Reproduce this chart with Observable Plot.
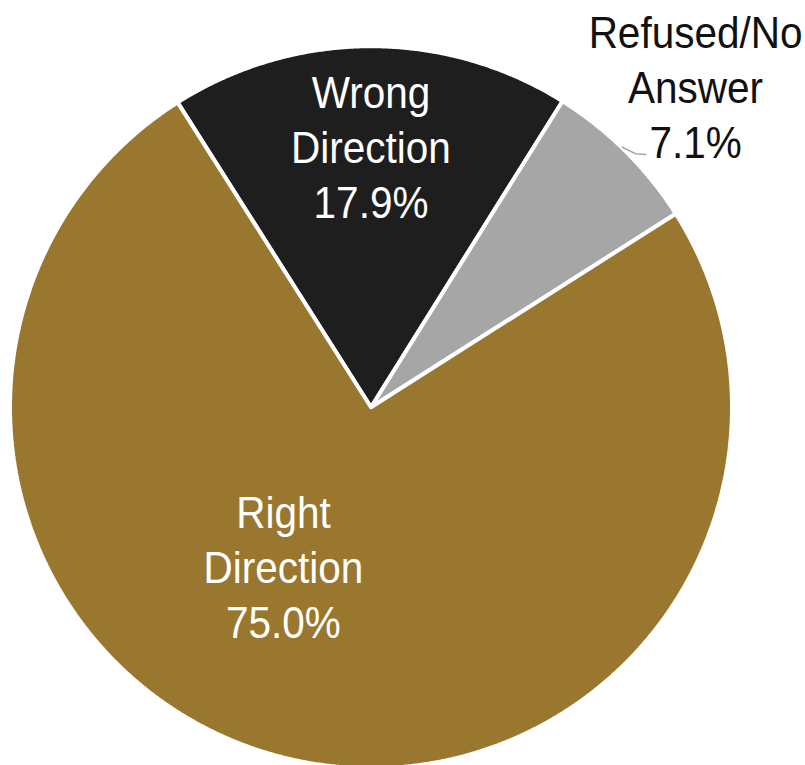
<!DOCTYPE html>
<html>
<head>
<meta charset="utf-8">
<script src="https://cdn.jsdelivr.net/npm/d3@7"></script>
<script src="https://cdn.jsdelivr.net/npm/@observablehq/plot@0.6"></script>
<style>
  html, body { margin: 0; padding: 0; background: #fff; }
</style>
</head>
<body>
<div id="chart"></div>
<script>
// ---- data ----
const categories = ["Wrong Direction", "Refused/No Answer", "Right Direction"];
const values = [17.9, 7.1, 75.0];
const labelTexts = ["Wrong\nDirection\n17.9%", "Refused/No\nAnswer\n7.1%", "Right\nDirection\n75.0%"];
const colors = ["#1e1e1e", "#a6a6a6", "#9a772f"];
const labelColors = ["#ffffff", "#111111", "#ffffff"];

// ---- layout ----
const W = 805, H = 765;
const cx = 370.5, cy = 406.7, R = 359;   // pixel centre & radius
const startDeg = -32.4;
const sliceR = 1 + 2 / R;                  // compensate for white outline
const labelPos = [[0.0, 0.729], [0.904, 0.897], [-0.244, -0.441]];
const leader = [[0.700, 0.724], [0.737, 0.706], [0.765, 0.704]];
const condense = 0.9;

const total = d3.sum(values);
const polys = [];
let a = startDeg;
categories.forEach((c, i) => {
  const a0 = a, a1 = a + values[i] / total * 360;
  polys.push({cat: c, x: 0, y: 0});
  const n = Math.max(2, Math.ceil((a1 - a0) / 0.25));
  for (let k = 0; k <= n; k++) {
    const t = (a0 + (a1 - a0) * k / n) * Math.PI / 180;
    polys.push({cat: c, x: sliceR * Math.sin(t), y: sliceR * Math.cos(t)});
  }
  polys.push({cat: c, x: 0, y: 0});
  a = a1;
});

const labels = categories.map((c, i) => ({
  cat: c, text: labelTexts[i], x: labelPos[i][0], y: labelPos[i][1], color: labelColors[i]
}));
const leaderPts = leader.map(([x, y]) => ({x, y}));

const chart = Plot.plot({
  width: W, height: H,
  margin: 0,
  x: {domain: [-cx / R, (W - cx) / R], axis: null},
  y: {domain: [-(H - cy) / R, cy / R], axis: null},
  color: {domain: categories, range: colors},
  style: {fontFamily: "'Liberation Sans', Arial, sans-serif", background: "#fff"},
  marks: [
    Plot.line(polys, {x: "x", y: "y", z: "cat", fill: "cat", stroke: "#fff", strokeWidth: 4, strokeLinejoin: "miter", curve: "linear"}),
    Plot.line(leaderPts, {x: "x", y: "y", stroke: "#a6a6a6", strokeWidth: 1.5}),
    Plot.text(labels, {
      x: "x", y: "y", text: "text", fill: "color", fontSize: 45, lineHeight: 1.22, textAnchor: "middle",
      render(index, scales, vals, dims, context, next) {
        const g = next(index, scales, vals, dims, context);
        g.querySelectorAll("text").forEach(t => {
          const tr = t.getAttribute("transform");
          if (tr) t.setAttribute("transform", tr + ` scale(${condense},1)`);
        });
        return g;
      }
    })
  ]
});
document.getElementById("chart").appendChild(chart);
</script>
</body>
</html>
